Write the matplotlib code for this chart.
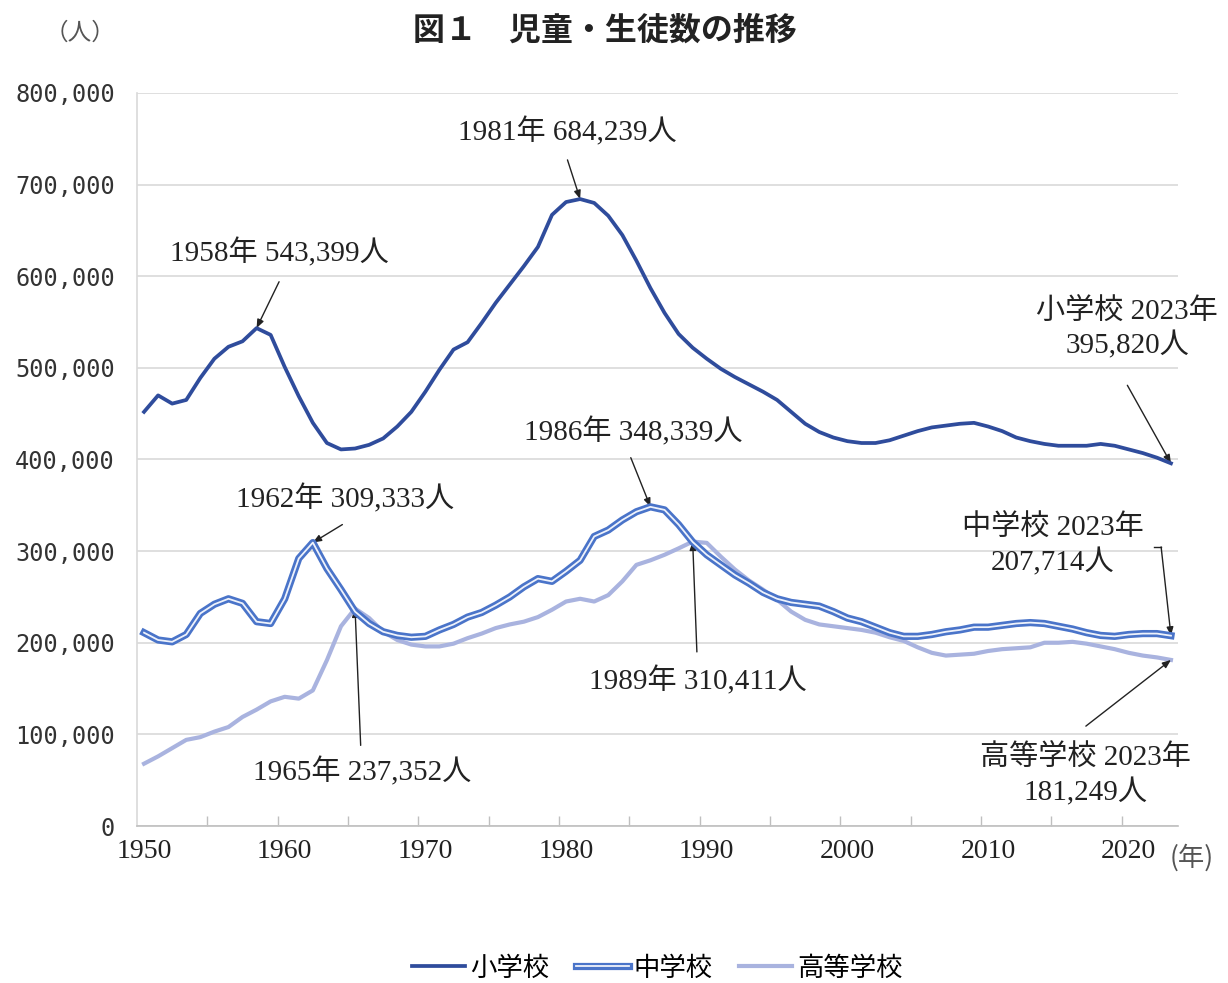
import numpy as np
import matplotlib
matplotlib.use("Agg")
import matplotlib.pyplot as plt
import matplotlib.patheffects as pe

plt.rcParams['font.family'] = ['Noto Sans CJK JP', 'DejaVu Sans']

# ---- data ----
years = list(range(1950, 2024))

elementary = [
    452000, 470000, 461000, 465000, 489000, 510000, 523000, 529000, 543399, 536000,  # 1950-59
    501000, 469000, 440000, 418000, 411000, 412000, 416000, 423000, 436000, 452000,  # 1960-69
    474000, 498000, 520000, 528000, 549000, 571000, 591000, 611000, 632000, 667000,  # 1970-79
    681000, 684239, 680000, 666000, 645000, 617000, 587000, 560000, 537000, 522000,  # 1980-89
    510000, 499000, 490000, 482000, 474000, 465000, 452000, 439000, 430000, 424000,  # 1990-99
    420000, 418000, 418000, 421000, 426000, 431000, 435000, 437000, 439000, 440000,  # 2000-09
    436000, 431000, 424000, 420000, 417000, 415000, 415000, 415000, 417000, 415000,  # 2010-19
    411000, 407000, 402000, 395820,                                                  # 2020-23
]

junior = [
    211000, 203000, 201000, 209000, 232000, 242000, 248000, 243000, 223000, 221000,
    248000, 292000, 309333, 281000, 258000, 234000, 221000, 212000, 208000, 206000,
    207000, 214000, 220000, 228000, 233000, 241000, 250000, 261000, 270000, 267000,
    278000, 290000, 316000, 323000, 334000, 343000, 348339, 345000, 329000, 310000,
    296000, 285000, 274000, 265000, 255000, 248000, 244000, 242000, 240000, 234000,
    227000, 223000, 217000, 211000, 207000, 207000, 209000, 212000, 214000, 217000,
    217000, 219000, 221000, 222000, 221000, 218000, 215000, 211000, 208000, 207000,
    209000, 210000, 210000, 207714,
]

high = [
    68000, 76000, 85000, 94000, 97000, 103000, 108000, 119000, 127000, 136000,
    141000, 139000, 148000, 181000, 218000, 237352, 227000, 212000, 203000, 198000,
    196000, 196000, 199000, 205000, 210000, 216000, 220000, 223000, 228000, 236000,
    245000, 248000, 245000, 252000, 267000, 285000, 290000, 296000, 303000, 310411,
    309000, 294000, 280000, 268000, 258000, 247000, 234000, 225000, 220000, 218000,
    216000, 214000, 211000, 206000, 202000, 195000, 189000, 186000, 187000, 188000,
    191000, 193000, 194000, 195000, 200000, 200000, 201000, 199000, 196000, 193000,
    189000, 186000, 184000, 181249,
]

series_names = ['小学校', '中学校', '高等学校']

# annotated points: (series, year, label)
peak_notes = [
    (elementary, 1958, '1958年 543,399人'),
    (elementary, 1981, '1981年 684,239人'),
    (junior, 1962, '1962年 309,333人'),
    (high, 1965, '1965年 237,352人'),
    (junior, 1986, '1986年 348,339人'),
    (high, 1989, '1989年 310,411人'),
]
# label centre and arrow start (data coords), same order as above
note_layout = [
    ((1959.6, 626000), (1959.6, 594000)),
    ((1980.1, 758000), (1980.1, 727000)),
    ((1964.3, 357000), (1964.1, 329000)),
    ((1965.5, 59000), (1965.4, 88000)),
    ((1984.8, 430000), (1984.6, 402000)),
    ((1989.4, 159000), (1989.3, 190000)),
]

end_notes = [
    (elementary, '小学校 2023年\n395,820人', (2019.9, 542000), (2019.9, 481000)),
    (junior, '中学校 2023年\n207,714人', (2014.6, 306000), (2022.3, 304600)),
    (high, '高等学校 2023年\n181,249人', (2016.9, 55000), (2016.95, 109000)),
]

c_elem = '#2f4c9c'
c_jun = '#4a74c9'
c_high = '#a9b3df'

W, H = 1228, 983
fig = plt.figure(figsize=(W / 100, H / 100), dpi=100)
ax = fig.add_axes([137 / W, 1 - 826 / H, (1178 - 137) / W, (826 - 93) / H])

ax.plot(years, high, color=c_high, lw=3.0, solid_joinstyle='round', label=series_names[2], zorder=3)
ax.plot(years, junior, color='#eef2fb', lw=1.3, label=series_names[1], zorder=4,
        solid_joinstyle='round',
        path_effects=[pe.Stroke(linewidth=5.2, foreground=c_jun), pe.Normal()])
ax.plot(years, elementary, color=c_elem, lw=2.7, solid_joinstyle='round',
        label=series_names[0], zorder=5)

ax.set_xlim(1949.5, 2023.5)
ax.set_ylim(0, 800000)

ax.set_yticks(np.arange(0, 800001, 100000))
ax.set_yticklabels([f'{int(v):,}' for v in np.arange(0, 800001, 100000)],
                   family='DejaVu Sans Mono', fontsize=17, color='#333333')
ax.tick_params(axis='y', length=0, pad=16)

xt = list(range(1950, 2021, 10))
ax.set_xticks(xt)
ax.set_xticklabels([str(x) for x in xt], family=['Liberation Serif', 'Noto Sans CJK JP'],
                   fontsize=20, color='#222222')
ax.set_xticks(np.arange(1954.5, 2023, 5), minor=True)
ax.tick_params(axis='x', which='major', length=0, pad=9)
ax.tick_params(axis='x', which='minor', direction='in', length=7, color='#bfbfbf', width=1)

ax.grid(axis='y', color='#d9d9d9', lw=1.2)
ax.set_axisbelow(True)
for s in ['top', 'right']:
    ax.spines[s].set_visible(False)
ax.spines['left'].set_color('#d9d9d9')
ax.spines['bottom'].set_color('#bfbfbf')
ax.spines['left'].set_linewidth(1.2)
ax.spines['bottom'].set_linewidth(1.2)

note_font = dict(family=['Liberation Serif', 'Noto Sans CJK JP'], fontsize=21, color='#222222')
arrow = dict(arrowstyle='-|>,head_length=0.5,head_width=0.2', color='#222222', lw=1.0,
             shrinkA=0, shrinkB=0)

for (ser, yr, txt), (tpos, apos) in zip(peak_notes, note_layout):
    val = ser[years.index(yr)]
    ax.text(tpos[0], tpos[1], txt, ha='center', va='center', **note_font)
    ax.annotate('', xy=(yr, val), xytext=apos, arrowprops=arrow, annotation_clip=False)

for ser, txt, tpos, apos in end_notes:
    ax.text(tpos[0], tpos[1], txt, ha='center', va='center', linespacing=1.25,
            clip_on=False, **note_font)
    ax.annotate('', xy=(years[-1], ser[-1]), xytext=apos, arrowprops=arrow,
                annotation_clip=False)
# small elbow on the junior-high callout
ax.plot([2021.8, 2022.3], [304600, 304600], color='#222222', lw=1.0, clip_on=False)

fig.text(605 / W, 1 - 31 / H, '図１　児童・生徒数の推移', ha='center', va='center',
         fontsize=23, fontweight='bold', color='#222222')
fig.text(80 / W, 1 - 33 / H, '（人）', ha='center', va='center', fontsize=17, color='#555555')
fig.text(1192 / W, 1 - 858 / H, '(年)', ha='center', va='center', fontsize=19, color='#555555')

leg = ax.legend(handles=[ax.lines[2], ax.lines[1], ax.lines[0]], loc='center',
                bbox_to_anchor=(0.5, (1 - 968 / H - (1 - 826 / H)) / ((826 - 93) / H)),
                ncol=3, frameon=False, fontsize=19, handlelength=2.0, columnspacing=1.0,
                handletextpad=0.2)

fig.savefig('out.png', dpi=100, facecolor='white')
